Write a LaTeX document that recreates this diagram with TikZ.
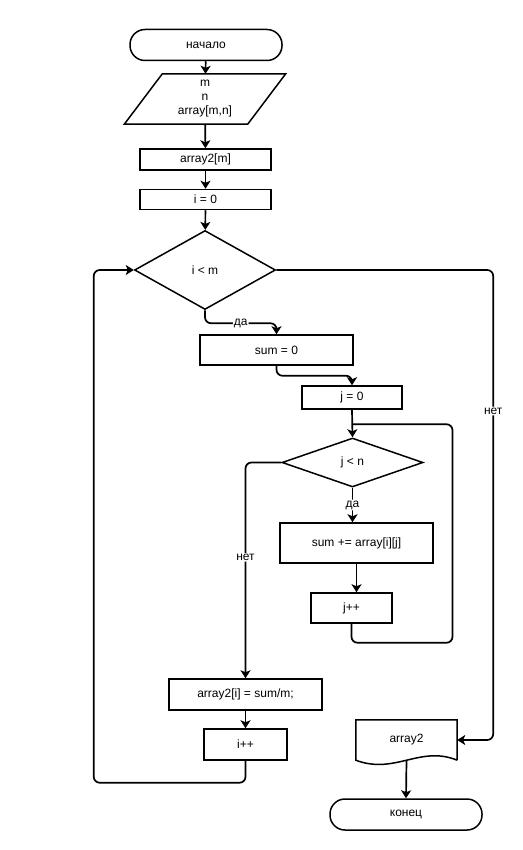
\documentclass[tikz,border=0pt]{standalone}
\usepackage{fontspec}
\setmainfont{Liberation Sans}
\usetikzlibrary{shapes.geometric,arrows.meta}

\begin{document}
\begin{tikzpicture}[x=1pt,y=-1pt,
    font=\fontsize{12}{14}\selectfont,
    box/.style={draw,line width=1.5pt,rectangle,inner sep=0pt},
    term/.style={box,rounded corners=15pt,minimum width=152pt,minimum height=31pt},
    cond/.style={draw,line width=1.5pt,diamond,inner sep=0pt},
    line/.style={line width=1.7pt,rounded corners=6pt},
    arr/.style={line,-{Stealth[length=8pt,width=10pt,inset=2pt]}},
    lbl/.style={fill=white,inner sep=1pt}]
  \useasboundingbox (0,0) rectangle (522,850);
  % shapes
  \node[term] (a) at (206,45) {начало};
  \node[inner sep=0pt,minimum width=123pt,minimum height=50pt,align=center] (b) at (205,99) {m\\n\\array[m,n]};
  \draw[line width=1.5pt] ([xshift=-19pt]b.south west) -- ([xshift=19pt]b.north west)
    -- ([xshift=19pt]b.north east) -- ([xshift=-19pt]b.south east) -- cycle;
  \node[box,minimum width=131pt,minimum height=21pt] (c) at (205.5,159.5) {array2[m]};
  \node[box,minimum width=131pt,minimum height=20pt] (d) at (205.5,199.5) {i = 0};
  \node[cond,minimum width=141pt,minimum height=79pt] (e) at (205,270) {i < m};
  \node[box,minimum width=153pt,minimum height=30pt] (f) at (276.5,350) {sum = 0};
  \node[box,minimum width=100pt,minimum height=23pt] (g) at (352,397.5) {j = 0};
  \node[cond,minimum width=141pt,minimum height=49pt] (h) at (352.5,462.5) {j < n};
  \node[box,minimum width=153pt,minimum height=40pt] (k) at (356.5,543) {sum += array[i][j]};
  \node[box,minimum width=81pt,minimum height=30pt] (l) at (351.5,608) {j++};
  \node[box,minimum width=153pt,minimum height=31pt] (p) at (245.5,694.5) {array2[i] = sum/m;};
  \node[box,minimum width=83pt,minimum height=31pt] (q) at (245.5,744.5) {i++};
  \node[inner sep=0pt,minimum width=101pt,minimum height=40pt] (o) at (406.5,740) {array2};
  \draw[line width=1.5pt] (o.south east) -- (o.north east) -- (o.north west) -- (o.south west)
    .. controls (395,775) and (420,745) .. (o.south east);
  \node[term] (z) at (406,814.5) {конец};
  % connectors
  \draw[arr] (a) -- (b);
  \draw[arr] (b) -- (c);
  \draw[arr] (c) -- (d);
  \draw[arr] (d) -- (e);
  \draw[arr] (e.south) -- ++(0,13) -| node[lbl,pos=0.25] {да} (f.north);
  \draw[arr] (f.south) -- ++(0,10) -| (g.north);
  \draw[arr] (g.south) -- (h.north);
  \draw[arr] (h.south) -- node[lbl] {да} (k.north -| h.south);
  \draw[arr] (k.south) -- (l.north -| k.south);
  \coordinate (jl) at ([xshift=100pt,yshift=13pt]h.north);
  \draw[line] (l.south) -- ++(0,19) -| (jl) -- (h.north |- jl);
  \draw[arr] (h.west) -| node[lbl,pos=0.72] {нет} (p.north);
  \draw[arr] (p) -- (q);
  \draw[arr] (q.south) -- ++(0,22) -| ([xshift=-40pt]e.west) -- (e.west);
  \draw[arr] (e.east) -| node[lbl,pos=0.65] {нет} ([xshift=36pt]o.east) -- (o.east);
  \draw[arr] (o.south) -- (z.north);
\end{tikzpicture}
\end{document}
